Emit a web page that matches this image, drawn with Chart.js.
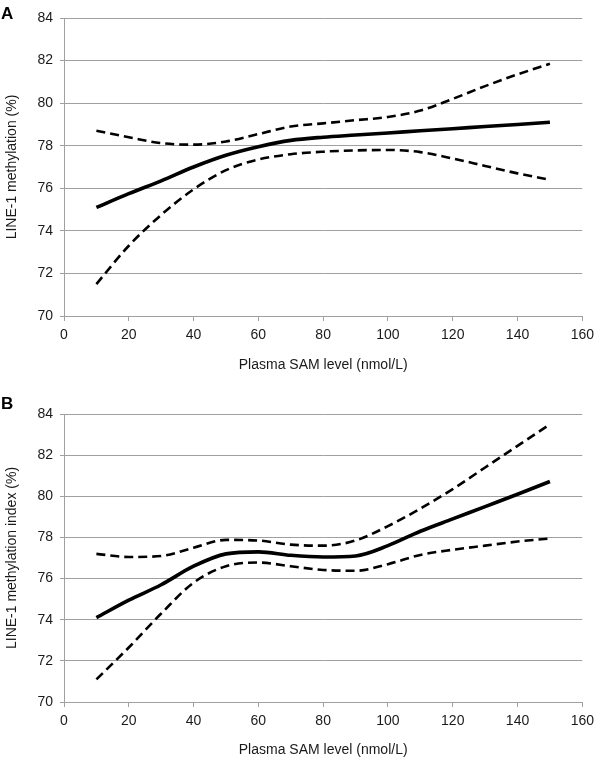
<!DOCTYPE html>
<html>
<head>
<meta charset="utf-8">
<script src="https://cdn.jsdelivr.net/npm/chart.js@4"></script>
<style>
  body { margin: 0; background: #fff; width: 600px; height: 757px; position: relative; overflow: hidden; }
  canvas { position: absolute; left: 0; }
  .panel-label { position: absolute; left: 1px; font: bold 17px "Liberation Sans", Arial, sans-serif; line-height: 1; color: #000; }
</style>
</head>
<body>
<canvas id="chartA" width="600" height="380" style="top:0"></canvas>
<canvas id="chartB" width="600" height="367" style="top:390px"></canvas>
<div class="panel-label" style="top:5px">A</div>
<div class="panel-label" style="top:395px">B</div>
<script>
// x positions of the fitted curves (Plasma SAM, nmol/L)
const samLevels = [10, 20, 30, 40, 50, 60, 70, 80, 90, 100, 110, 120, 130, 140, 150];

// Panel A - LINE-1 methylation (%)
const aFit   = [75.1, 75.75, 76.35, 77.0, 77.55, 77.95, 78.25, 78.4, 78.5, 78.6, 78.7, 78.8, 78.9, 79.0, 79.1];
const aUpper = [78.7, 78.4, 78.12, 78.05, 78.2, 78.55, 78.9, 79.05, 79.2, 79.35, 79.65, 80.2, 80.8, 81.35, 81.85];
const aLower = [71.5, 73.3, 74.75, 75.95, 76.85, 77.35, 77.6, 77.72, 77.78, 77.8, 77.7, 77.4, 77.05, 76.7, 76.4];

// Panel B - LINE-1 methylation index (%)
const bFit   = [74.1, 74.95, 75.7, 76.6, 77.2, 77.3, 77.13, 77.05, 77.1, 77.6, 78.3, 78.9, 79.5, 80.1, 80.72];
const bUpper = [77.2, 77.05, 77.1, 77.5, 77.88, 77.85, 77.65, 77.6, 77.85, 78.55, 79.4, 80.35, 81.4, 82.45, 83.5];
const bLower = [71.1, 72.65, 74.3, 75.8, 76.6, 76.78, 76.6, 76.42, 76.38, 76.7, 77.15, 77.4, 77.6, 77.8, 77.95];

const xTickValues = [0, 20, 40, 60, 80, 100, 120, 140, 160];
const yTickValues = [70, 72, 74, 76, 78, 80, 82, 84];

const FONT = '"Liberation Sans", Arial, Helvetica, sans-serif';
const GRID = '#a0a0a0';
const TEXT = '#1a1a1a';

function series(ys) {
  return samLevels.map((x, i) => ({ x, y: ys[i] }));
}

function curve(ys, dashed) {
  return {
    data: series(ys),
    borderColor: '#000',
    borderWidth: dashed ? 2.6 : 3.6,
    borderDash: dashed ? [9, 5] : [],
    borderCapStyle: 'butt',
    cubicInterpolationMode: 'monotone',
    pointRadius: 0,
    fill: false
  };
}

function makeChart(canvasId, yTitle, fit, upper, lower, padTop, xAxisHeight, xTitlePad) {
  return new Chart(document.getElementById(canvasId), {
    type: 'line',
    data: { datasets: [curve(upper, true), curve(lower, true), curve(fit, false)] },
    options: {
      responsive: false,
      animation: false,
      layout: { padding: { top: padTop, right: 13, left: 0, bottom: 0 } },
      plugins: { legend: { display: false }, tooltip: { enabled: false } },
      scales: {
        x: {
          type: 'linear', min: 0, max: 160,
          afterBuildTicks: s => { s.ticks = xTickValues.map(v => ({ value: v })); },
          afterFit: s => { s.height = xAxisHeight; },
          grid: { drawOnChartArea: false, drawTicks: true, tickLength: 5, color: GRID },
          border: { color: GRID, width: 1 },
          ticks: { color: TEXT, font: { size: 14, family: FONT }, padding: 6, maxRotation: 0, autoSkip: false },
          title: {
            display: true, text: 'Plasma SAM level (nmol/L)', color: TEXT,
            font: { size: 14, family: FONT }, padding: { top: 0, bottom: xTitlePad }
          }
        },
        y: {
          type: 'linear', min: 70, max: 84,
          afterBuildTicks: s => { s.ticks = yTickValues.map(v => ({ value: v })); },
          afterFit: s => { s.width = 64; },
          grid: { color: GRID, drawTicks: true, tickLength: 4 },
          border: { color: GRID, width: 1 },
          ticks: { color: TEXT, font: { size: 14, family: FONT }, padding: 7 },
          title: {
            display: true, text: yTitle, color: TEXT,
            font: { size: 14, family: FONT }, padding: { top: 4, bottom: 0 }
          }
        }
      }
    }
  });
}

makeChart('chartA', 'LINE-1 methylation (%)', aFit, aUpper, aLower, 18, 64, 6);
makeChart('chartB', 'LINE-1 methylation index (%)', bFit, bUpper, bLower, 24, 55, -2);
</script>
</body>
</html>
